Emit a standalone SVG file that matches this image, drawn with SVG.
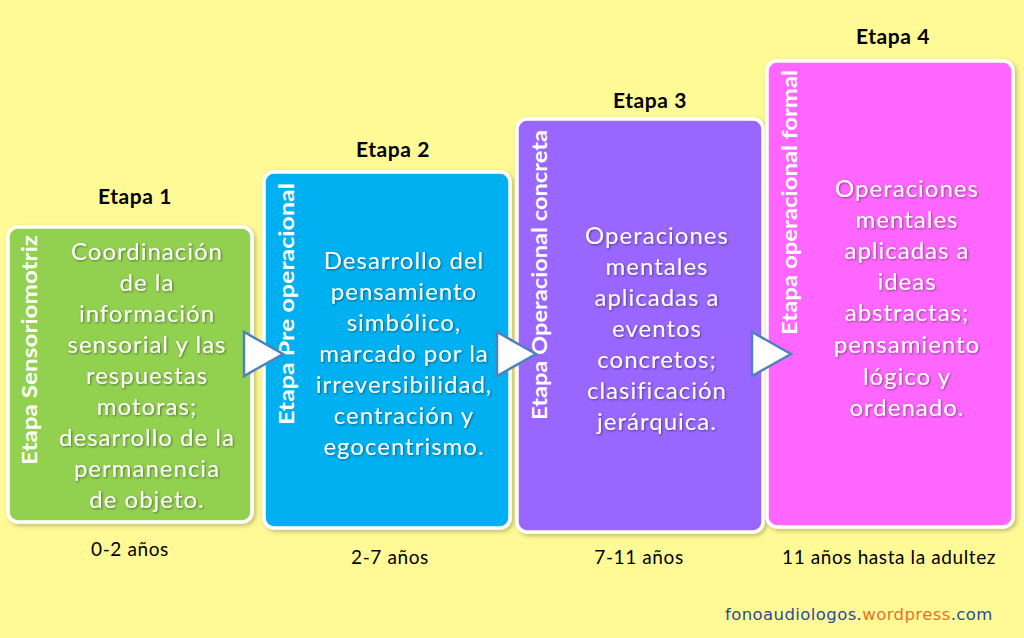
<svg xmlns="http://www.w3.org/2000/svg" width="1024" height="638" viewBox="0 0 1024 638">
<defs>
<filter id="sh" x="-10%" y="-10%" width="120%" height="120%">
<feDropShadow dx="2" dy="2" stdDeviation="2" flood-color="#000" flood-opacity="0.25"/>
</filter>
<filter id="ts" x="-10%" y="-10%" width="120%" height="120%">
<feDropShadow dx="1" dy="1" stdDeviation="1.2" flood-color="#000" flood-opacity="0.45"/>
</filter>
</defs>
<style>
.box{stroke:#fff;stroke-width:3.5}
.vt{font-family:"Lato","Open Sans",sans-serif;font-weight:bold;font-size:20px;fill:#fff;text-anchor:end}
.bt{font-family:"Lato","Open Sans",sans-serif;font-size:24px;letter-spacing:1px;fill:#fff;text-anchor:middle}
.hd{font-family:"Lato","Open Sans",sans-serif;font-weight:bold;font-size:21px;letter-spacing:0.6px;fill:#000;text-anchor:middle}
.ag{font-family:"Lato","Open Sans",sans-serif;font-size:19px;letter-spacing:0.6px;fill:#000;text-anchor:middle}
.arr{fill:#fff;stroke:#4F81BD;stroke-width:2.5;stroke-linejoin:miter}
.wm{font-family:"DejaVu Sans",sans-serif;font-size:16.5px;letter-spacing:0.4px;fill:#2B4A9B}
</style>
<rect width="1024" height="638" fill="#FFFA96"/>

<g id="etapa1">
<text class="hd" x="135" y="204">Etapa 1</text>
<rect class="box" x="8" y="227" width="244" height="295" rx="10" fill="#92D050" filter="url(#sh)"/>
<text class="vt" transform="translate(37,235) rotate(-90)" textLength="230" lengthAdjust="spacingAndGlyphs">Etapa Sensoriomotriz</text>
<g class="bt" filter="url(#ts)">
<text x="147" y="260">Coordinación</text>
<text x="147" y="291">de la</text>
<text x="147" y="322">información</text>
<text x="147" y="353">sensorial y las</text>
<text x="147" y="384">respuestas</text>
<text x="147" y="415">motoras;</text>
<text x="147" y="446">desarrollo de la</text>
<text x="147" y="477">permanencia</text>
<text x="147" y="508">de objeto.</text>
</g>
<text class="ag" x="130" y="556">0-2 años</text>
</g>

<g id="etapa2">
<text class="hd" x="393" y="157">Etapa 2</text>
<rect class="box" x="264" y="172" width="246" height="356" rx="10" fill="#00B0F0" filter="url(#sh)"/>
<text class="vt" transform="translate(294,183) rotate(-90)" textLength="242" lengthAdjust="spacingAndGlyphs">Etapa Pre operacional</text>
<g class="bt" filter="url(#ts)">
<text x="404" y="269">Desarrollo del</text>
<text x="404" y="300">pensamiento</text>
<text x="404" y="331">simbólico,</text>
<text x="404" y="362">marcado por la</text>
<text x="404" y="393">irreversibilidad,</text>
<text x="404" y="424">centración y</text>
<text x="404" y="455">egocentrismo.</text>
</g>
<text class="ag" x="390" y="564">2-7 años</text>
</g>

<g id="etapa3">
<text class="hd" x="650" y="108">Etapa 3</text>
<rect class="box" x="517" y="119" width="246" height="413" rx="10" fill="#9966FF" filter="url(#sh)"/>
<text class="vt" transform="translate(547,130) rotate(-90)" textLength="290" lengthAdjust="spacingAndGlyphs">Etapa Operacional concreta</text>
<g class="bt" filter="url(#ts)">
<text x="657" y="244">Operaciones</text>
<text x="657" y="275">mentales</text>
<text x="657" y="306">aplicadas a</text>
<text x="657" y="337">eventos</text>
<text x="657" y="368">concretos;</text>
<text x="657" y="399">clasificación</text>
<text x="657" y="430">jerárquica.</text>
</g>
<text class="ag" x="639" y="564">7-11 años</text>
</g>

<g id="etapa4">
<text class="hd" x="893" y="44">Etapa 4</text>
<rect class="box" x="767" y="61" width="246" height="466" rx="10" fill="#FF66FF" filter="url(#sh)"/>
<text class="vt" transform="translate(797,70) rotate(-90)" textLength="265" lengthAdjust="spacingAndGlyphs">Etapa operacional formal</text>
<g class="bt" filter="url(#ts)">
<text x="907" y="197">Operaciones</text>
<text x="907" y="228">mentales</text>
<text x="907" y="259">aplicadas a</text>
<text x="907" y="290">ideas</text>
<text x="907" y="321">abstractas;</text>
<text x="907" y="353">pensamiento</text>
<text x="907" y="385">lógico y</text>
<text x="907" y="416">ordenado.</text>
</g>
<text class="ag" x="889" y="564">11 años hasta la adultez</text>
</g>

<g id="connectors">
<polygon class="arr" points="244,332 244,376 283,354"/>
<polygon class="arr" points="497,332 497,376 536,354"/>
<polygon class="arr" points="752,332 752,376 791,354"/>
</g>

<text id="watermark" class="wm" x="725" y="620">fonoaudiologos.<tspan fill="#E8712A">wordpress</tspan>.com</text>
</svg>
